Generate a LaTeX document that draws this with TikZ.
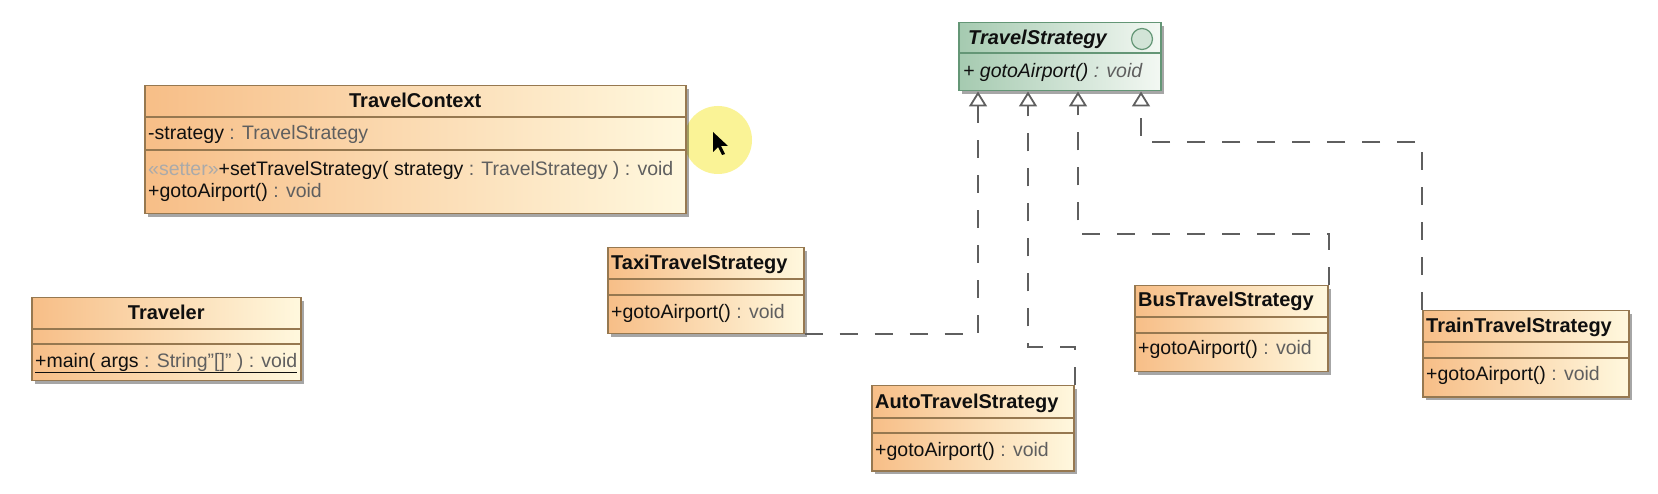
\documentclass[tikz,border=0pt]{standalone}
\usepackage{fontspec}
\setmainfont{Liberation Sans}
\usetikzlibrary{arrows.meta,shadows,calc}
\definecolor{clsL}{RGB}{247,190,135}
\definecolor{clsR}{RGB}{255,248,222}
\definecolor{clsB}{RGB}{150,120,80}
\definecolor{ifL}{RGB}{165,202,176}
\definecolor{ifR}{RGB}{243,248,243}
\definecolor{ifB}{RGB}{100,150,118}
\definecolor{nam}{RGB}{15,15,15}
\definecolor{typ}{RGB}{95,95,95}
\definecolor{ster}{RGB}{170,170,170}
\definecolor{depc}{RGB}{95,95,95}
\definecolor{hl}{RGB}{250,243,150}
\begin{document}
\begin{tikzpicture}[x=1pt,y=-1pt,
  every node/.style={font=\fontsize{19.5}{23}\selectfont},
  boxshadow/.style={drop shadow={shadow xshift=3pt,shadow yshift=-3pt,fill=black,opacity=0.35}},
  cls/.style={draw=clsB,line width=1.5pt,left color=clsL,right color=clsR,anchor=north west,inner sep=0pt,boxshadow},
  ifc/.style={draw=ifB,line width=1.5pt,left color=ifL,right color=ifR,anchor=north west,inner sep=0pt,boxshadow},
  sepline/.style={draw=clsB,line width=1.2pt},
  ifsep/.style={draw=ifB,line width=1.2pt},
  ttl/.style={anchor=base,inner sep=0pt,text=nam,font=\fontsize{20}{23}\selectfont\bfseries},
  ttlw/.style={anchor=base west,inner sep=0pt,text=nam,font=\fontsize{20}{23}\selectfont\bfseries},
  txt/.style={anchor=base west,inner sep=0pt,text=nam},
  dep/.style={draw=depc,line width=2pt,dash pattern=on 18pt off 17pt,
     -{Triangle[open,length=15pt,width=18pt,fill=white,line width=1.8pt]}}
]
\useasboundingbox (0,0) rectangle (1658,494);
\fill[white] (0,0) rectangle (1658,494);

% cursor highlight
\fill[hl] (718,140) circle (34);
\fill[black] (713,132) -- (713,152) -- (718,147) -- (722,155) -- (725,154) -- (721,146) -- (728,146) -- cycle;

% TravelContext
\node[cls,minimum width=541pt,minimum height=128pt] (ctx) at (144,85) {};
\draw[sepline] ($(ctx.north west)+(0,32)$) -- ($(ctx.north east)+(0,32)$);
\draw[sepline] ($(ctx.north west)+(0,65)$) -- ($(ctx.north east)+(0,65)$);
\node[ttl] (ctxT) at ($(ctx.north)+(0,23)$) {TravelContext};
\node[txt] (ctxA) at (148,140) {-strategy \textcolor{typ}{: TravelStrategy}};
\node[txt] (ctxO1) at (148,176) {\textcolor{ster}{«setter»}+setTravelStrategy( strategy \textcolor{typ}{: TravelStrategy ) : void}};
\node[txt] (ctxO2) at (148,198) {+gotoAirport() \textcolor{typ}{: void}};

% Traveler
\node[cls,minimum width=269pt,minimum height=83pt] (trv) at (31,297) {};
\draw[sepline] ($(trv.north west)+(0,32)$) -- ($(trv.north east)+(0,32)$);
\draw[sepline] ($(trv.north west)+(0,47)$) -- ($(trv.north east)+(0,47)$);
\node[ttl] (trvT) at ($(trv.north)+(0,23)$) {Traveler};
\node[txt] (trvO) at (35,367) {\underline{+main( args \textcolor{typ}{: String"[]" ) : void}}};

% TravelStrategy (interface)
\node[ifc,minimum width=202pt,minimum height=68pt] (ts) at (958,22) {};
\draw[ifsep] ($(ts.north west)+(0,31)$) -- ($(ts.north east)+(0,31)$);
\node[ttlw,font=\fontsize{20}{23}\selectfont\bfseries\itshape] (tsT) at (968,45) {TravelStrategy};
\draw[draw=ifB,fill=ifL!50,line width=1.2pt] (1142,39) circle (10.5);
\node[txt,font=\fontsize{19.5}{23}\selectfont\itshape] (tsO) at (963,78) {+ gotoAirport() \textcolor{typ}{: void}};

% TaxiTravelStrategy
\node[cls,minimum width=196pt,minimum height=86pt] (taxi) at (607,247) {};
\draw[sepline] ($(taxi.north west)+(0,32)$) -- ($(taxi.north east)+(0,32)$);
\draw[sepline] ($(taxi.north west)+(0,48)$) -- ($(taxi.north east)+(0,48)$);
\node[ttlw] (taxiT) at (611,270) {TaxiTravelStrategy};
\node[txt] (taxiO) at (611,319) {+gotoAirport() \textcolor{typ}{: void}};

% AutoTravelStrategy
\node[cls,minimum width=202pt,minimum height=85pt] (auto) at (871,385) {};
\draw[sepline] ($(auto.north west)+(0,33)$) -- ($(auto.north east)+(0,33)$);
\draw[sepline] ($(auto.north west)+(0,48)$) -- ($(auto.north east)+(0,48)$);
\node[ttlw] (autoT) at (875,408) {AutoTravelStrategy};
\node[txt] (autoO) at (875,456) {+gotoAirport() \textcolor{typ}{: void}};

% BusTravelStrategy
\node[cls,minimum width=193pt,minimum height=86pt] (bus) at (1134,285) {};
\draw[sepline] ($(bus.north west)+(0,32)$) -- ($(bus.north east)+(0,32)$);
\draw[sepline] ($(bus.north west)+(0,48)$) -- ($(bus.north east)+(0,48)$);
\node[ttlw] (busT) at (1138,307) {BusTravelStrategy};
\node[txt] (busO) at (1138,355) {+gotoAirport() \textcolor{typ}{: void}};

% TrainTravelStrategy
\node[cls,minimum width=206pt,minimum height=86pt] (train) at (1422,310) {};
\draw[sepline] ($(train.north west)+(0,32)$) -- ($(train.north east)+(0,32)$);
\draw[sepline] ($(train.north west)+(0,48)$) -- ($(train.north east)+(0,48)$);
\node[ttlw] (trainT) at (1426,333) {TrainTravelStrategy};
\node[txt] (trainO) at (1426,381) {+gotoAirport() \textcolor{typ}{: void}};

% realizations
\draw[dep] (taxi.south east) -| ([xshift=20pt]ts.south west);
\draw[dep] (auto.north east) -- ++(0,-38) -| ([xshift=70pt]ts.south west);
\draw[dep] (bus.north east) -- ++(0,-51) -| ([xshift=120pt]ts.south west);
\draw[dep] (train.north west) -- ++(0,-168) -| ([xshift=183pt]ts.south west);
\end{tikzpicture}
\end{document}
